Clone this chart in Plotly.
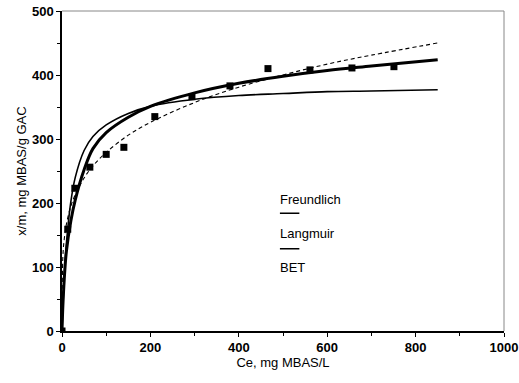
import plotly.graph_objects as go

# Measured data
ce_data = [0, 13, 29, 63, 100, 140, 210, 294, 380, 466, 561, 656, 751]
qe_data = [0, 159, 223, 256, 276, 287, 335, 366, 383, 410, 408, 411, 413]

# Fitted curves
ce_curve = [0, 2, 5, 10, 20, 30, 50, 70, 100, 150, 200, 300, 400, 500, 600, 700, 850]
freundlich = [0, 117, 143, 167, 195, 213, 239, 258, 279, 306, 326, 357, 381, 400, 417, 431, 450]
langmuir = [0, 38, 83, 137, 202, 240, 282, 304, 322, 340, 351, 362, 368, 371, 374, 375, 377]
bet = [0, 40, 80, 125, 172, 205, 252, 285, 310, 334, 351, 372, 387, 398, 407, 414, 424]

x_ticks = [0, 200, 400, 600, 800, 1000]
y_ticks = [0, 100, 200, 300, 400, 500]
legend_labels = ["Freundlich", "Langmuir", "BET"]

fig = go.Figure()
fig.add_trace(go.Scatter(x=ce_curve, y=freundlich, mode="lines",
                         line=dict(color="black", width=1.1, dash="4px,3px", shape="spline"),
                         name="Freundlich", showlegend=False))
fig.add_trace(go.Scatter(x=ce_curve, y=langmuir, mode="lines",
                         line=dict(color="black", width=1.6, shape="spline"),
                         name="Langmuir", showlegend=False))
fig.add_trace(go.Scatter(x=ce_curve, y=bet, mode="lines",
                         line=dict(color="black", width=3, shape="spline"),
                         name="BET", showlegend=False))
fig.add_trace(go.Scatter(x=ce_data, y=qe_data, mode="markers",
                         marker=dict(symbol="square", size=7, color="black"),
                         showlegend=False))

font = "Liberation Sans, Arial, sans-serif"

# Legend drawn as text with short lines below labels
ys = [0.41, 0.305, 0.197]
for i, lab in enumerate(legend_labels):
    fig.add_annotation(x=0.488, y=ys[i], xref="paper", yref="paper", text=lab,
                       showarrow=False, xanchor="left", yanchor="middle",
                       font=dict(family=font, size=13, color="black"))
line_ys = [0.368, 0.257]
for yl in line_ys:
    fig.add_shape(type="line", xref="paper", yref="paper",
                  x0=0.493, x1=0.537, y0=yl, y1=yl,
                  line=dict(color="black", width=1.5))

fig.update_layout(
    width=519, height=383,
    margin=dict(l=62, r=15, t=11, b=52),
    paper_bgcolor="white", plot_bgcolor="white",
    font=dict(family=font, size=12, color="black"),
)
fig.update_xaxes(range=[0, 1000], tickvals=x_ticks, ticks="outside", ticklen=4,
                 tickcolor="black", showline=True, linecolor="black", linewidth=1.5,
                 mirror=False, showgrid=False, zeroline=False, automargin=False,
                 minor=dict(dtick=100, ticks="outside", ticklen=3, tickcolor="black"),
                 tickfont=dict(family=font, size=13, weight="bold"),
                 title=dict(text="Ce, mg MBAS/L", font=dict(family=font, size=13), standoff=0))
fig.update_yaxes(range=[0, 500], tickvals=y_ticks, ticks="outside", ticklen=4,
                 tickcolor="black", showline=True, linecolor="black", linewidth=1.5,
                 mirror=False, showgrid=False, zeroline=False, automargin=False,
                 minor=dict(dtick=50, ticks="outside", ticklen=3, tickcolor="black"),
                 tickfont=dict(family=font, size=13, weight="bold"),
                 title=dict(text="x/m, mg MBAS/g GAC", font=dict(family=font, size=13), standoff=2))

# thin grey frame top/right
fig.add_shape(type="line", xref="paper", yref="paper", x0=0, x1=1, y0=1, y1=1,
              line=dict(color="#888", width=1))
fig.add_shape(type="line", xref="paper", yref="paper", x0=1, x1=1, y0=0, y1=1,
              line=dict(color="#888", width=1))

fig.write_html("out.html")
